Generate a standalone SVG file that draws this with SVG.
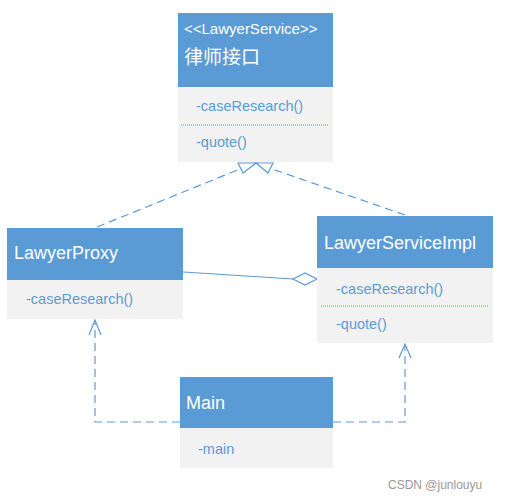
<svg xmlns="http://www.w3.org/2000/svg" width="507" height="500" viewBox="0 0 507 500">
<style>
.hd{fill:#5B9BD5}
.bd{fill:#F2F2F2}
.t{font-family:"Liberation Sans","Noto Sans CJK SC",sans-serif;fill:#ffffff}
.m{font-family:"Liberation Sans",sans-serif;fill:#5B9BD5;font-size:14.5px}
.sep{stroke:#5B9BD5;stroke-width:1;stroke-dasharray:1,1}
.dash{fill:none;stroke:#5B9BD5;stroke-width:1.2;stroke-dasharray:8,5}
.ln{fill:none;stroke:#5B9BD5;stroke-width:1.2}
</style>
<rect width="507" height="500" fill="#ffffff"/>
<g id="connectors">
<line class="dash" x1="97" y1="227" x2="240" y2="169"/>
<line class="dash" x1="405" y1="215" x2="272" y2="169"/>
<polygon class="ln" points="256,163 238,163 243,173" fill="#ffffff"/>
<polygon class="ln" points="256,163 273,163 268,173" fill="#ffffff"/>
<line class="ln" x1="183" y1="272" x2="293" y2="279"/>
<polygon class="ln" points="293,279 305,273 317,279 305,285" fill="#ffffff"/>
<polyline class="dash" points="180,422 95,422 95,321"/>
<polyline class="ln" points="89,335 95,320 101,335"/>
<polyline class="dash" points="333,422 405,422 405,345"/>
<polyline class="ln" points="399,358 405,344 411,358"/>
</g>
<g id="LawyerService">
<rect class="bd" x="178" y="13" width="155" height="149"/>
<rect class="hd" x="178" y="13" width="155" height="74"/>
<text class="t" x="184" y="34" font-size="15">&lt;&lt;LawyerService&gt;&gt;</text>
<text class="t" x="184" y="64" font-size="19">律师接口</text>
<text class="m" x="196" y="111">-caseResearch()</text>
<line class="sep" x1="181" y1="125" x2="328" y2="125"/>
<text class="m" x="196" y="147">-quote()</text>
</g>
<g id="LawyerProxy">
<rect class="bd" x="7" y="228" width="176" height="91"/>
<rect class="hd" x="7" y="228" width="176" height="52"/>
<text class="t" x="14" y="259" font-size="18">LawyerProxy</text>
<text class="m" x="26" y="304">-caseResearch()</text>
</g>
<g id="LawyerServiceImpl">
<rect class="bd" x="317" y="216" width="176" height="127"/>
<rect class="hd" x="317" y="216" width="176" height="52"/>
<text class="t" x="324" y="249" font-size="18">LawyerServiceImpl</text>
<text class="m" x="336" y="294">-caseResearch()</text>
<line class="sep" x1="321" y1="306" x2="489" y2="306"/>
<text class="m" x="336" y="329">-quote()</text>
</g>
<g id="Main">
<rect class="bd" x="180" y="377" width="153" height="91"/>
<rect class="hd" x="180" y="377" width="153" height="51"/>
<text class="t" x="186" y="409" font-size="18">Main</text>
<text class="m" x="198" y="454">-main</text>
</g>
<text x="388" y="489" font-family="Liberation Sans,sans-serif" font-size="12" fill="#999999">CSDN @junlouyu</text>
</svg>
